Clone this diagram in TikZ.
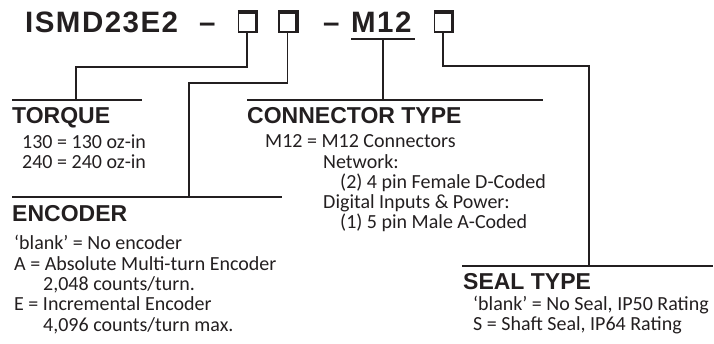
\documentclass[tikz,border=0pt]{standalone}
\usepackage{fontspec}
\setmainfont{Carlito}
\newfontfamily\headfont{Liberation Sans}
\newfontfamily\titlefont[LetterSpace=5]{Liberation Sans}

\begin{document}
\begin{tikzpicture}[x=1pt, y=-1pt,
    leg/.style={ink, line width=1.6pt},
    rule/.style={ink, line width=2pt},
    title/.style={anchor=base west, inner sep=0pt, ink, font=\titlefont\bfseries\fontsize{29.5}{30}\selectfont},
    head/.style={anchor=base west, inner sep=0pt, ink, font=\headfont\bfseries\fontsize{23}{23}\selectfont},
    body/.style={anchor=base west, inner sep=0pt, ink, align=left, font=\fontsize{20}{20.3}\selectfont},
    slot/.style={draw=ink, line width=1.5pt, inner sep=0pt, minimum width=17pt, minimum height=19pt}]
  \definecolor{ink}{RGB}{35,31,32}
  \useasboundingbox (0,0) rectangle (714,344);

  % part number
  \node[title] (pn) at (25,33) {ISMD23E2};
  \node[title] (dashA) at (199,33) {–};
  \node[slot] (boxT) at (247,22.5) {};
  \node[slot] (boxE) at (287.5,22.5) {};
  \node[title] (dashB) at (323,33) {–};
  \node[title] (conn) at (351,33) {M12};
  \node[slot] (boxS) at (443,22.5) {};
  \foreach \b in {boxT,boxE,boxS}
    \draw[ink, line width=3.5pt] (\b.north west) -- (\b.north east) -- (\b.south east);

  \coordinate (ulL) at (351,39);
  \coordinate (ulM) at (383,39);
  \coordinate (ulR) at (415,39);
  \draw[rule] (ulL) -- (ulR);

  % rules under the legs
  \coordinate (tqL) at (12,100);   \coordinate (tqR) at (142,100);
  \coordinate (enL) at (12,197);   \coordinate (enR) at (282,197);
  \coordinate (ctL) at (247,100);  \coordinate (ctR) at (543,100);
  \coordinate (slL) at (462,266);  \coordinate (slR) at (713,266);
  \draw[rule] (tqL) -- (tqR);
  \draw[rule] (enL) -- (enR);
  \draw[rule] (ctL) -- (ctR);
  \draw[rule] (slL) -- (slR);

  % legs
  \coordinate (tqKnee) at (76,67);   \coordinate (tqFoot) at (76,100);
  \coordinate (enKnee) at (189,83);  \coordinate (enFoot) at (189,197);
  \coordinate (ctFoot) at (383,100);
  \coordinate (slKnee) at (589,66);  \coordinate (slFoot) at (589,266);
  \draw[leg] (boxT.south) |- (tqKnee) -- (tqFoot);
  \draw[leg] (boxE.south) |- (enKnee) -- (enFoot);
  \draw[leg] (ulM) -- (ctFoot);
  \draw[leg] (boxS.south) |- (slKnee) -- (slFoot);

  % headings
  \node[head] (torque) at (12,123.5) {TORQUE};
  \node[head] (encoder) at (12,221.5) {ENCODER};
  \node[head] (ctype) at (247,123.5) {CONNECTOR TYPE};
  \node[head] (stype) at (463,290) {SEAL TYPE};

  % option lists (placed at the baseline of their last line)
  \node[body] (tqList) at (22,169)
    {130 = 130 oz-in\\240 = 240 oz-in};
  \node[body] (enList) at (14,331)
    {‘blank’ = No encoder\\
     A = Absolute Multi-turn Encoder\\
     \hspace*{29pt}2,048 counts/turn.\\
     E = Incremental Encoder\\
     \hspace*{29pt}4,096 counts/turn max.};
  \node[body] (ctList) at (265,229)
    {M12 = M12 Connectors\\
     \hspace*{58pt}Network:\\
     \hspace*{75pt}(2) 4 pin Female D-Coded\\
     \hspace*{58pt}Digital Inputs \& Power:\\
     \hspace*{75pt}(1) 5 pin Male A-Coded};
  \node[body] (slList) at (473,330.5)
    {‘blank’ = No Seal, IP50 Rating\\S = Shaft Seal, IP64 Rating};
\end{tikzpicture}
\end{document}
